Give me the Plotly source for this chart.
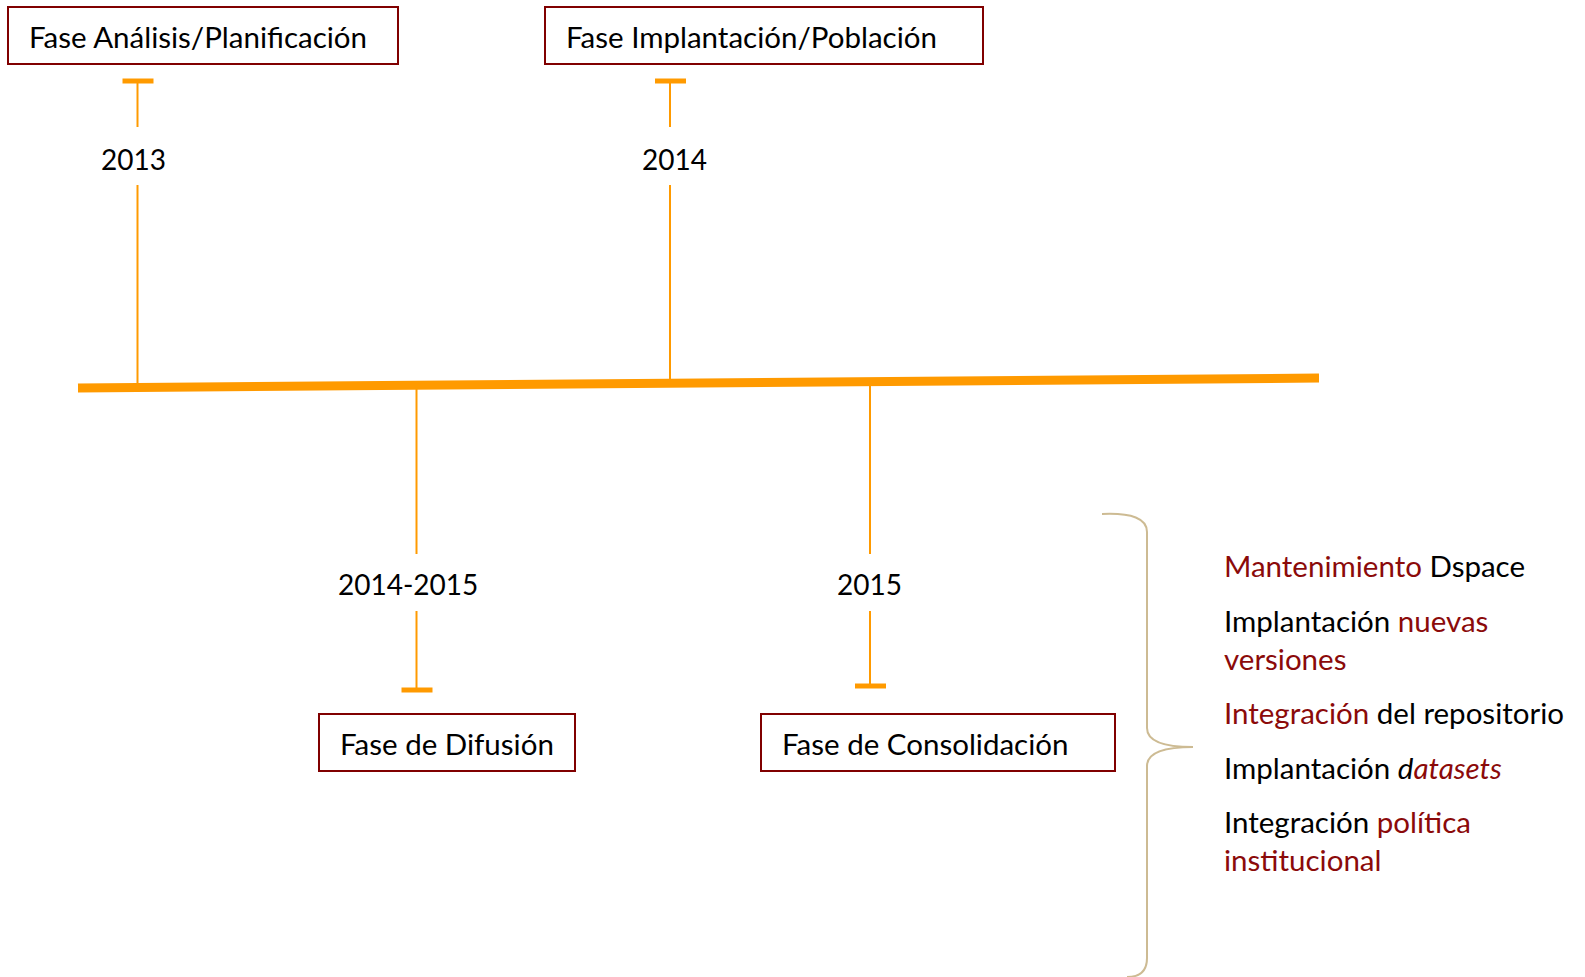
import plotly.graph_objects as go

# timeline data
years = ["2013", "2014-2015", "2014", "2015"]
phases = ["Fase Análisis/Planificación", "Fase de Difusión",
          "Fase Implantación/Población", "Fase de Consolidación"]
sides = ["up", "down", "up", "down"]

# consolidation tasks: list of (text, highlighted) pieces per item
tasks = [
    [("Mantenimiento", True), (" Dspace", False)],
    [("Implantación ", False), ("nuevas<br>versiones", True)],
    [("Integración", True), (" del repositorio", False)],
    [("Implantación <i>d</i>", False), ("<i>atasets</i>", True)],
    [("Integración ", False), ("política<br>institucional", True)],
]

ORANGE = "#FF9A00"
DARKRED = "#8B0A0A"
BORDER = "#800000"
TAN = "#CDBB93"
FONT = "Lato"

# layout helpers (pixel space)
line_x = [78, 1319]
line_y = [388, 378]
stem_x = [137.5, 416.5, 670, 870]
label_x = [133, 408, 674, 869]
boxes = [(8, 398), (319, 575), (545, 983), (761, 1115)]


def y_on_line(x):
    t = (x - line_x[0]) / (line_x[1] - line_x[0])
    return line_y[0] + t * (line_y[1] - line_y[0])


fig = go.Figure()

fig.add_trace(go.Scatter(x=line_x, y=line_y, mode="lines",
                         line=dict(color=ORANGE, width=9), hoverinfo="skip"))

shapes = []
annotations = []
for i, yr in enumerate(years):
    sx = stem_x[i]
    ly = y_on_line(sx)
    if sides[i] == "up":
        cap_y, lab_y, seg = 81, 159, [(ly, 185), (127, 81)]
        by0, by1 = 7, 64
    else:
        cap_y = 690 if i == 1 else 686
        lab_y, seg = 584, [(ly, 554), (611, cap_y)]
        by0, by1 = 714, 771
    for a, b in seg:
        shapes.append(dict(type="line", x0=sx, x1=sx, y0=a, y1=b,
                           line=dict(color=ORANGE, width=2)))
    shapes.append(dict(type="line", x0=sx - 15, x1=sx + 16, y0=cap_y, y1=cap_y,
                       line=dict(color=ORANGE, width=5)))
    annotations.append(dict(x=label_x[i], y=lab_y, text=yr, showarrow=False,
                            xanchor="center", yanchor="middle",
                            font=dict(family=FONT, size=28, color="black")))
    bx0, bx1 = boxes[i]
    shapes.append(dict(type="rect", x0=bx0, x1=bx1, y0=by0, y1=by1,
                       line=dict(color=BORDER, width=2)))
    annotations.append(dict(x=bx0 + 19, y=(by0 + by1) / 2 + 1, text=phases[i],
                            showarrow=False, xanchor="left", yanchor="middle",
                            font=dict(family=FONT, size=29.5, color="black")))

# brace
shapes.append(dict(
    type="path",
    path="M 1102,514 Q 1147,512 1147,532 L 1147,728 Q 1147,747 1193,747 "
         "Q 1147,747 1147,766 L 1147,958 Q 1147,977 1127,977",
    line=dict(color=TAN, width=2)))

# task list
task_y = [565, 639, 712, 767, 840]
for item, ty in zip(tasks, task_y):
    txt = "".join(f"<span style='color:{DARKRED}'>{t}</span>" if hl else t
                  for t, hl in item)
    annotations.append(dict(x=1222, y=ty, text=txt, showarrow=False,
                            xanchor="left", yanchor="middle", align="left",
                            font=dict(family=FONT, size=29.5, color="black")))

fig.update_layout(
    width=1585, height=977,
    margin=dict(l=0, r=0, t=0, b=0),
    paper_bgcolor="white", plot_bgcolor="white",
    showlegend=False,
    xaxis=dict(range=[0, 1585], visible=False, fixedrange=True),
    yaxis=dict(range=[977, 0], visible=False, fixedrange=True),
    shapes=shapes, annotations=annotations,
)

# drop the default 8px body margin so the figure fills the window exactly
fig.write_html("out.html", config={"displayModeBar": False},
               post_script="document.body.style.margin='0';")
